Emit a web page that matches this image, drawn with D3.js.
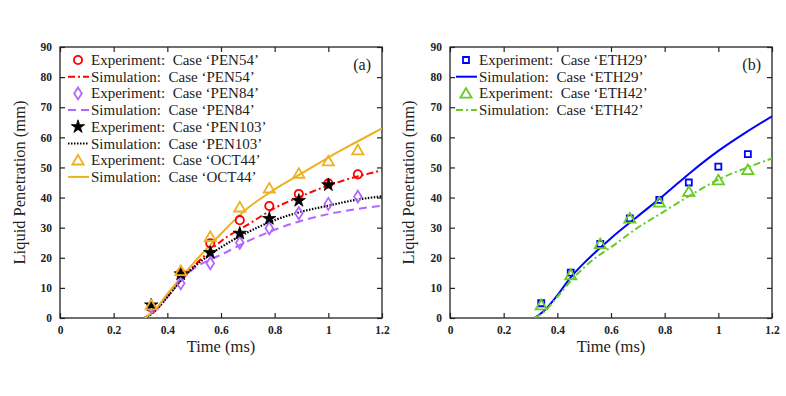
<!DOCTYPE html>
<html>
<head>
<meta charset="utf-8">
<script src="https://cdn.jsdelivr.net/npm/d3@7"></script>
<style>
  body { margin: 0; background: #fff; }
  svg text { font-family: "Liberation Serif", "DejaVu Serif", serif; }
</style>
</head>
<body>
<svg id="chart" width="786" height="396"></svg>
<script>
// experiment times (ms)
const expTime = [0.34, 0.45, 0.56, 0.67, 0.78, 0.89, 1.0, 1.11];
const expTimeStar = [0.34, 0.45, 0.56, 0.67, 0.78, 0.89, 1.0];

// panel (a) experiments (mm)
const pen54Exp = [3.5, 14.8, 24.8, 32.5, 37.2, 41.2, 44.7, 47.7];
const pen84Exp = [3.7, 11.5, 18.2, 25.0, 29.8, 34.8, 37.9, 40.3];
const pen103Exp = [4.3, 14.6, 21.7, 28.1, 33.0, 39.0, 44.2];
const oct44Exp = [4.3, 15.7, 27.0, 36.8, 43.1, 48.0, 52.1, 55.8];

// simulation times (ms)
const simTime = [0.315, 0.35, 0.4, 0.45, 0.5, 0.55, 0.6, 0.7, 0.8, 0.9, 1.0, 1.1, 1.2];

// panel (a) simulations (mm)
const pen54Sim = [0, 2.0, 7.0, 12.5, 17.3, 21.6, 25.5, 31.0, 36.5, 40.5, 44.0, 46.8, 49.0];
const pen84Sim = [0, 2.0, 7.0, 12.3, 16.5, 19.0, 21.0, 25.5, 29.3, 32.3, 34.5, 36.1, 37.3];
const pen103Sim = [0, 2.0, 7.0, 12.5, 17.0, 20.5, 23.5, 28.5, 32.5, 35.3, 37.3, 39.2, 40.4];
const oct44Sim = [0, 2.3, 8.0, 13.3, 18.5, 23.3, 28.0, 36.5, 42.7, 48.0, 53.3, 58.2, 63.0];

// panel (b)
const eth29Exp = [4.9, 15.1, 24.6, 33.1, 39.2, 45.0, 50.3, 54.4];
const eth42Exp = [4.3, 14.3, 24.6, 33.1, 38.4, 42.0, 45.8, 49.2];
const eth29Sim = [0, 2.3, 7.5, 13.5, 18.3, 22.5, 26.5, 33.8, 41.0, 48.6, 55.5, 61.5, 67.0];
const eth42Sim = [0, 2.0, 7.0, 12.3, 16.8, 20.5, 23.5, 30.0, 35.5, 41.0, 46.0, 49.7, 53.0];

const xTicks = [0, 0.2, 0.4, 0.6, 0.8, 1, 1.2];
const yTicks = [0, 10, 20, 30, 40, 50, 60, 70, 80, 90];

const RED = '#ff0000', PURPLE = '#b266ff', ORANGE = '#edb120', BLUE = '#0000ff', GREEN = '#66cc22';

const svg = d3.select('#chart');

const panels = [
  {
    left: 60, right: 382, label: '(a)', legendX: 68, titleX: 25,
    series: [
      {kind: 'exp', x: expTime, y: pen54Exp, color: RED, marker: 'circle', name: 'Experiment:\u00a0 Case \u2018PEN54\u2019'},
      {kind: 'sim', x: simTime, y: pen54Sim, color: RED, dash: '7,3,2,3', name: 'Simulation:\u00a0 Case \u2018PEN54\u2019'},
      {kind: 'exp', x: expTime, y: pen84Exp, color: PURPLE, marker: 'diamond', name: 'Experiment:\u00a0 Case \u2018PEN84\u2019'},
      {kind: 'sim', x: simTime, y: pen84Sim, color: PURPLE, dash: '8,5', name: 'Simulation:\u00a0 Case \u2018PEN84\u2019'},
      {kind: 'exp', x: expTimeStar, y: pen103Exp, color: '#000', marker: 'star', name: 'Experiment:\u00a0 Case \u2018PEN103\u2019'},
      {kind: 'sim', x: simTime, y: pen103Sim, color: '#000', dash: '1.5,1.5', name: 'Simulation:\u00a0 Case \u2018PEN103\u2019'},
      {kind: 'exp', x: expTime, y: oct44Exp, color: ORANGE, marker: 'triangle', name: 'Experiment:\u00a0 Case \u2018OCT44\u2019'},
      {kind: 'sim', x: simTime, y: oct44Sim, color: ORANGE, dash: null, name: 'Simulation:\u00a0 Case \u2018OCT44\u2019'}
    ]
  },
  {
    left: 450, right: 772, label: '(b)', legendX: 456, titleX: 414,
    series: [
      {kind: 'exp', x: expTime, y: eth29Exp, color: BLUE, marker: 'square', name: 'Experiment:\u00a0 Case \u2018ETH29\u2019'},
      {kind: 'sim', x: simTime, y: eth29Sim, color: BLUE, dash: null, name: 'Simulation:\u00a0 Case \u2018ETH29\u2019'},
      {kind: 'exp', x: expTime, y: eth42Exp, color: GREEN, marker: 'triangle', name: 'Experiment:\u00a0 Case \u2018ETH42\u2019'},
      {kind: 'sim', x: simTime, y: eth42Sim, color: GREEN, dash: '7,3,2,3', name: 'Simulation:\u00a0 Case \u2018ETH42\u2019'}
    ]
  }
];

const plotTop = 47, plotBottom = 318;

const markerPath = (type) => {
  if (type === 'circle') return d3.symbol(d3.symbolCircle, 54)();
  if (type === 'square') return d3.symbol(d3.symbolSquare, 36)();
  if (type === 'triangle') return 'M0,-5.3L5.6,4.3L-5.6,4.3Z';
  if (type === 'diamond') return 'M0,-6L3.8,0L0,6L-3.8,0Z';
  if (type === 'star') return d3.symbol(d3.symbolStar, 55)();
  return '';
};

const drawMarker = (sel, s) => {
  sel.attr('d', markerPath(s.marker))
    .attr('fill', s.marker === 'star' ? '#000' : 'none')
    .attr('stroke', s.color)
    .attr('stroke-width', s.marker === 'star' ? 0.8 : 1.8);
};

panels.forEach(p => {
  const x = d3.scaleLinear().domain([0, 1.2]).range([p.left, p.right]);
  const y = d3.scaleLinear().domain([0, 90]).range([plotBottom, plotTop]);
  const g = svg.append('g');

  // clip for curves
  const clipId = 'clip' + p.left;
  svg.append('clipPath').attr('id', clipId)
    .append('rect')
    .attr('x', p.left).attr('y', plotTop)
    .attr('width', p.right - p.left).attr('height', plotBottom - plotTop);

  // axes with inward ticks on all sides
  const tickStyle = a => a.selectAll('text')
    .attr('font-family', '"Liberation Serif", serif')
    .attr('font-weight', 'bold')
    .attr('font-size', 11.5)
    .attr('fill', '#222');

  g.append('g')
    .attr('transform', `translate(0,${plotBottom})`)
    .call(d3.axisBottom(x).tickValues(xTicks).tickFormat(d3.format('~g')).tickSizeInner(-5).tickSizeOuter(0).tickPadding(8))
    .call(a => a.select('.domain').remove())
    .call(tickStyle);
  g.append('g')
    .attr('transform', `translate(${p.left},0)`)
    .call(d3.axisLeft(y).tickValues(yTicks).tickSizeInner(-5).tickSizeOuter(0).tickPadding(8))
    .call(a => a.select('.domain').remove())
    .call(tickStyle);
  g.append('g')
    .attr('transform', `translate(0,${plotTop})`)
    .call(d3.axisTop(x).tickValues(xTicks).tickFormat('').tickSizeInner(-5).tickSizeOuter(0))
    .call(a => a.select('.domain').remove());
  g.append('g')
    .attr('transform', `translate(${p.right},0)`)
    .call(d3.axisRight(y).tickValues(yTicks).tickFormat('').tickSizeInner(-5).tickSizeOuter(0))
    .call(a => a.select('.domain').remove());
  g.selectAll('.tick line').attr('stroke', '#222').attr('stroke-width', 1.2);

  g.append('rect')
    .attr('x', p.left).attr('y', plotTop)
    .attr('width', p.right - p.left).attr('height', plotBottom - plotTop)
    .attr('fill', 'none').attr('stroke', '#222').attr('stroke-width', 1.3);

  // axis titles
  g.append('text')
    .attr('transform', `translate(${p.titleX},${(plotTop + plotBottom) / 2}) rotate(-90)`)
    .attr('text-anchor', 'middle')
    .attr('font-size', 16.5).attr('fill', '#222')
    .text('Liquid Penetration (mm)');
  g.append('text')
    .attr('x', (p.left + p.right) / 2).attr('y', 352)
    .attr('text-anchor', 'middle')
    .attr('font-size', 16.5).attr('fill', '#222')
    .text('Time (ms)');

  // panel label
  g.append('text')
    .attr('x', p.right - 11).attr('y', 70)
    .attr('text-anchor', 'end')
    .attr('font-size', 16).attr('fill', '#222')
    .text(p.label);

  const line = d3.line()
    .x(d => x(d[0])).y(d => y(d[1]))
    .curve(d3.curveMonotoneX);

  // simulation curves
  p.series.filter(s => s.kind === 'sim').forEach(s => {
    g.append('path')
      .datum(d3.zip(s.x, s.y))
      .attr('clip-path', `url(#${clipId})`)
      .attr('d', line)
      .attr('fill', 'none')
      .attr('stroke', s.color)
      .attr('stroke-width', s.dash === '1.5,1.5' ? 2.2 : 2)
      .attr('stroke-dasharray', s.dash);
  });

  // experiment markers
  p.series.filter(s => s.kind === 'exp').forEach(s => {
    g.selectAll(null)
      .data(d3.zip(s.x, s.y))
      .join('path')
      .attr('transform', d => `translate(${x(d[0])},${y(d[1])})`)
      .call(sel => drawMarker(sel, s));
  });

  // legend
  const lg = g.append('g');
  p.series.forEach((s, i) => {
    const ly = 60 + i * 16.7;
    const row = lg.append('g').attr('transform', `translate(${p.legendX},${ly})`);
    if (s.kind === 'exp') {
      row.append('path')
        .attr('transform', 'translate(10,0)')
        .call(sel => drawMarker(sel, s));
    } else {
      row.append('line')
        .attr('x1', 0).attr('x2', 21)
        .attr('stroke', s.color)
        .attr('stroke-width', s.dash === '1.5,1.5' ? 2.2 : 2)
        .attr('stroke-dasharray', s.dash);
    }
    row.append('text')
      .attr('x', 23).attr('y', 5)
      .attr('font-size', 15)
      .attr('fill', '#222')
      .text(s.name);
  });
});
</script>
</body>
</html>
